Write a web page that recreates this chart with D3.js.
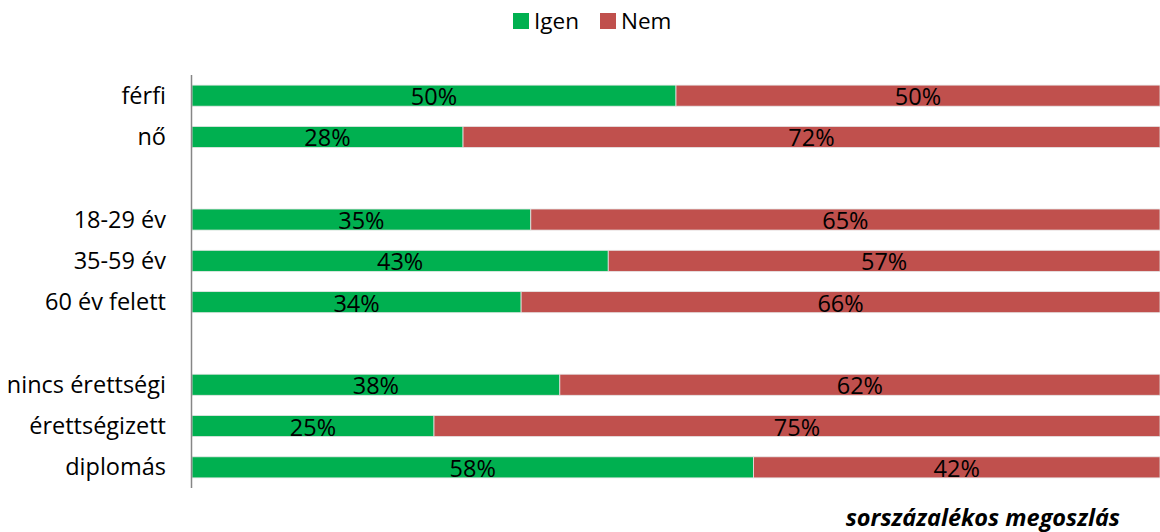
<!DOCTYPE html>
<html>
<head>
<meta charset="utf-8">
<script src="https://cdn.jsdelivr.net/npm/d3@7"></script>
<style>
  body { margin: 0; background: #fff; }
  svg text { font-family: "Open Sans", Lato, sans-serif; fill: #000; font-variant-ligatures: none; }
</style>
</head>
<body>
<div id="chart"></div>
<script>
// rows ("" = empty spacer row)
const categories = ["férfi", "nő", "", "18-29 év", "35-59 év", "60 év felett", "", "nincs érettségi", "érettségizett", "diplomás"];
const igen = [50, 28, null, 35, 43, 34, null, 38, 25, 58];
const nem  = [50, 72, null, 65, 57, 66, null, 62, 75, 42];
const seriesNames = ["Igen", "Nem"];
const colors = ["#00B050", "#C0504D"];
const note = "sorszázalékos megoszlás";

const width = 1160, height = 532;
const margin = { top: 75, right: 0, bottom: 44, left: 192 };

const svg = d3.select("#chart").append("svg")
  .attr("width", width).attr("height", height);

const x = d3.scaleLinear().domain([0, 100]).range([margin.left, width - margin.right]);
const y = d3.scaleBand().domain(d3.range(categories.length))
  .range([margin.top, height - margin.bottom]).paddingInner(0.49).paddingOuter(0.245);

const rows = categories.map((c, i) => ({ c, i, vals: [igen[i], nem[i]] })).filter(d => d.vals[0] != null);

const stacks = [];
rows.forEach(r => {
  let acc = 0;
  r.vals.forEach((v, k) => { stacks.push({ i: r.i, k, x0: acc, x1: acc + v, v }); acc += v; });
});

svg.append("g").selectAll("rect").data(stacks).join("rect")
  .attr("x", d => x(d.x0)).attr("width", d => x(d.x1) - x(d.x0))
  .attr("y", d => y(d.i)).attr("height", y.bandwidth())
  .attr("fill", d => colors[d.k])
  .attr("stroke", "#e6e6e6").attr("stroke-width", 0.8);

svg.append("g").selectAll("text").data(stacks).join("text")
  .attr("x", d => (x(d.x0) + x(d.x1)) / 2)
  .attr("y", d => y(d.i) + y.bandwidth() / 2 + 9.5)
  .attr("text-anchor", "middle").attr("font-size", 23.5)
  .text(d => d.v + "%");

// category labels
svg.append("g").selectAll("text").data(rows).join("text")
  .attr("x", margin.left - 26).attr("y", d => y(d.i) + y.bandwidth() / 2 + 8)
  .attr("text-anchor", "end").attr("font-size", 23.5)
  .text(d => d.c);

// axis line
svg.append("line")
  .attr("x1", margin.left - 0.5).attr("x2", margin.left - 0.5)
  .attr("y1", margin.top).attr("y2", height - margin.bottom)
  .attr("stroke", "#868686").attr("stroke-width", 1.5);

// legend
const legend = svg.append("g");
const lx = [513, 600];
seriesNames.forEach((s, k) => {
  legend.append("rect").attr("x", lx[k]).attr("y", 13).attr("width", 16).attr("height", 16).attr("fill", colors[k]);
  legend.append("text").attr("x", lx[k] + 21).attr("y", 29).attr("font-size", 22.5).text(s);
});

svg.append("text").attr("x", 1120).attr("y", 526)
  .attr("text-anchor", "end").attr("font-size", 23.5)
  .attr("font-weight", "bold").attr("font-style", "italic")
  .text(note);
</script>
</body>
</html>
